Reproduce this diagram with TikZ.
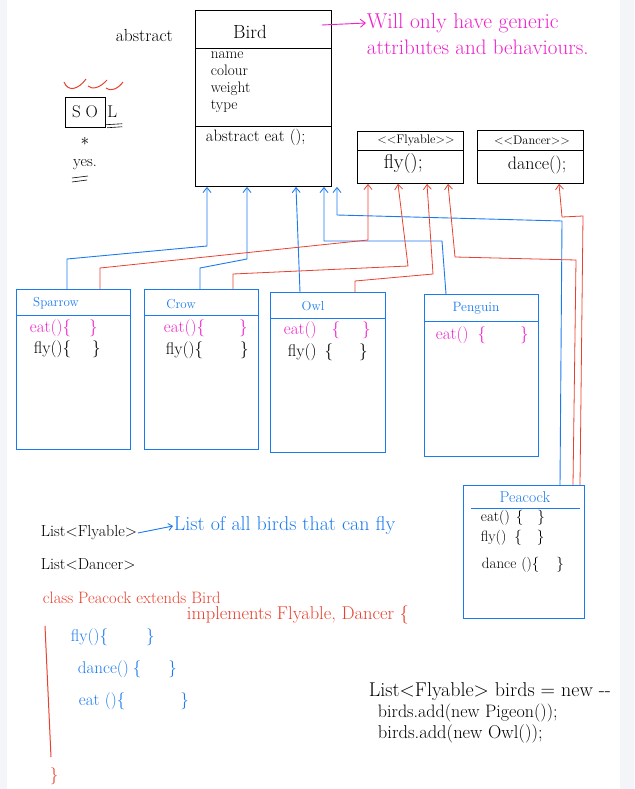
\documentclass[tikz,border=0pt]{standalone}
\usepackage{amsmath}
\usepackage{amssymb}
\usetikzlibrary{arrows.meta,positioning}

\definecolor{penblue}{RGB}{26,122,240}
\definecolor{penred}{RGB}{232,65,47}
\definecolor{penpink}{RGB}{238,34,204}
\definecolor{sidegrey}{RGB}{244,245,249}

\newcommand{\stereo}[1]{<\kern0pt<#1>\kern0pt>}

\tikzset{
  clsbox/.style={draw, line width=0.9pt, anchor=north west, inner sep=0pt},
  txt/.style={inner sep=0.75pt, font=\fontsize{#1}{17}\selectfont},
  txt/.default=17,
  inh/.style={penblue, line width=0.9pt, -{Straight Barb[length=5pt,width=8pt]}},
  impl/.style={penred, line width=0.8pt, -{Straight Barb[length=5pt,width=8pt]}},
}

\begin{document}
\begin{tikzpicture}[x=1pt,y=-1pt]
\useasboundingbox (0,0) rectangle (634,789);
%side strips of the page
\fill[sidegrey] (0,0) rectangle (7,789);
\fill[sidegrey] (620,0) rectangle (634,789);

%Shape: Class Bird [abstract]
\node[clsbox, minimum width=136pt, minimum height=176pt] (bird) at (195,10) {};
\draw[line width=0.9pt] ([yshift=-38pt]bird.north west) -- ([yshift=-38pt]bird.north east);
\draw[line width=0.9pt] ([yshift=-116pt]bird.north west) -- ([yshift=-116pt]bird.north east);
% Text Node
\node[txt=19] (birdname) at (250,32) {Bird};
\node[txt=17.5, anchor=west] (abstractlbl) at (115,35) {abstract};
\node[txt=15.2, anchor=north west, align=left] (birdattr) at (210,51) {name\\colour\\weight\\type};
\node[txt=16.5, anchor=west] (birdeat) at (205,137) {abstract eat ();};

%note on Bird
\node[txt=21.5, penpink, anchor=west] (note1) at (366,23) {Will only have generic};
\node[txt=21, penpink, anchor=west] (note2) at (366,47) {attributes and behaviours.};
\draw[penpink, line width=0.9pt, -{Straight Barb[length=5pt,width=8pt]}] ([shift={(-10pt,-15pt)}]bird.north east) -- (note1.west);

%SOL mark
\node[draw, line width=0.8pt, minimum width=40pt, minimum height=30pt, inner sep=0pt, txt=17] (sobox) at (85,112) {S\hspace{5pt}O};
\node[txt=17, right=1pt of sobox] (lletter) {L};
\draw[line width=0.6pt] ([shift={(-7pt,-6pt)}]lletter.south) -- ([shift={(10pt,-5pt)}]lletter.south);
\draw[line width=0.6pt] ([shift={(-5pt,-9pt)}]lletter.south) -- ([shift={(10pt,-8pt)}]lletter.south);
\draw[penred, line width=1pt] (64,82) .. controls (68,92) and (78,90) .. (86,79);
\draw[penred, line width=1pt] (88,86) .. controls (92,90) and (100,88) .. (107,80);
\draw[penred, line width=1pt] (106,88) .. controls (110,92) and (118,89) .. (123,82);
\node[txt=16, below=9pt of sobox] (star) {$\ast$};
\node[txt=16, below=12pt of star] (yeslbl) {yes.};
\draw[line width=0.6pt] (72,178) -- (88,176);
\draw[line width=0.6pt] (72,182) -- (87,180);

%Shape: Interface Flyable
\node[clsbox, minimum width=106pt, minimum height=52pt] (fly) at (357,131) {};
\draw[line width=0.9pt] ([yshift=-19pt]fly.north west) -- ([yshift=-19pt]fly.north east);
\node[txt=12.5] (flyname) at (416,140) {\stereo{Flyable}};
\node[txt=20, anchor=west] (flyop) at (383,164) {fly();};

%Shape: Interface Dancer
\node[clsbox, minimum width=106pt, minimum height=53pt] (dancer) at (477,130) {};
\draw[line width=0.9pt] ([yshift=-20pt]dancer.north west) -- ([yshift=-20pt]dancer.north east);
\node[txt=12.5] (dancername) at (532,140) {\stereo{Dancer}};
\node[txt=18, anchor=west] (dancerop) at (507,165) {dance();};

%Shape: Class Sparrow
\node[clsbox, penblue, minimum width=114pt, minimum height=160pt] (sparrow) at (16,289) {};
\draw[penblue, line width=0.9pt] ([yshift=-26pt]sparrow.north west) -- ([yshift=-26pt]sparrow.north east);
\node[txt=13, penblue] (sparrowname) at (56,303) {Sparrow};
\node[txt, penpink, anchor=west] (sparroweat) at (29,328) {eat()\{\hspace{18pt}\}};
\node[txt, anchor=west] (sparrowfly) at (33,349) {fly()\{\hspace{21pt}\}};

%Shape: Class Crow
\node[clsbox, penblue, minimum width=114pt, minimum height=160pt] (crow) at (144,289) {};
\draw[penblue, line width=0.9pt] ([yshift=-26pt]crow.north west) -- ([yshift=-26pt]crow.north east);
\node[txt=13, penblue] (crowname) at (181,304) {Crow};
\node[txt, penpink, anchor=west] (croweat) at (163,328) {eat()\{\hspace{34pt}\}};
\node[txt, anchor=west] (crowfly) at (165,350) {fly()\{\hspace{37pt}\}};

%Shape: Class Owl
\node[clsbox, penblue, minimum width=115pt, minimum height=160pt] (owl) at (270,292) {};
\draw[penblue, line width=0.9pt] ([yshift=-26pt]owl.north west) -- ([yshift=-26pt]owl.north east);
\node[txt=13, penblue] (owlname) at (313,306) {Owl};
\node[txt, penpink, anchor=west] (owleat) at (283,330) {eat()\hspace{15pt}\{\hspace{22pt}\}};
\node[txt, anchor=west] (owlfly) at (287,352) {fly()\hspace{8pt}\{\hspace{26pt}\}};

%Shape: Class Penguin
\node[clsbox, penblue, minimum width=114pt, minimum height=162pt] (penguin) at (424,294) {};
\draw[penblue, line width=0.9pt] ([yshift=-27pt]penguin.north west) -- ([yshift=-27pt]penguin.north east);
\node[txt=13.5, penblue] (penguinname) at (476,308) {Penguin};
\node[txt, penpink, anchor=west] (penguineat) at (435,335) {eat()\hspace{9pt}\{\hspace{34pt}\}};

%Shape: Class Peacock
\node[clsbox, penblue, minimum width=121pt, minimum height=133pt] (peacock) at (463,485) {};
\draw[penblue, line width=0.9pt] ([shift={(8pt,-23pt)}]peacock.north west) -- ([shift={(-5pt,-23pt)}]peacock.north east);
\node[txt=15.7, penblue] (peacockname) at (525,497) {Peacock};
\node[txt=15, anchor=west] (peacockeat) at (480,518) {eat()\hspace{6pt}\{\hspace{14pt}\}};
\node[txt=15, anchor=west] (peacockfly) at (480,538) {fly()\hspace{8pt}\{\hspace{15pt}\}};
\node[txt=15, anchor=west] (peacockdance) at (481,565) {dance\hspace{5pt}()\{\hspace{17pt}\}};

%inheritance: classes to Bird
\draw[inh] ([xshift=51pt]sparrow.north west) -- ++(0,-30) -- ++(140,-13) -- ([xshift=12pt]bird.south west);
\draw[inh] ([xshift=56pt]crow.north west) -- ++(0,-21) -- ++(47,-9) -- ([xshift=52pt]bird.south west);
\draw[inh] ([xshift=30pt]owl.north west) -- ([xshift=101pt]bird.south west);
\draw[inh] ([xshift=22pt]penguin.north west) -- ++(-4,-53) -- ++(-118,0) -- ([xshift=129pt]bird.south west);
\draw[inh] ([xshift=97pt]peacock.north west) -- ++(2,-264) -- ++(-225,-6) -- ([xshift=142pt]bird.south west);

%realisation: classes to Flyable and Dancer
\draw[impl] ([xshift=84pt]sparrow.north west) -- ++(0,-21) -- ++(268,-28) -- ([xshift=11pt]fly.south west);
\draw[impl] ([xshift=89pt]crow.north west) -- ++(0,-15) -- ++(175,-8) -- ([xshift=41pt]fly.south west);
\draw[impl] ([xshift=85pt]owl.north west) -- ++(0,-11) -- ++(78,-7) -- ([xshift=70pt]fly.south west);
\draw[impl] ([xshift=110pt]peacock.north west) -- ++(3,-225) -- ++(-121,-3) -- ([xshift=91pt]fly.south west);
\draw[impl] ([xshift=117pt]peacock.north west) -- ++(3,-269) -- ++(-21,1) -- ([xshift=82pt]dancer.south west);

%notes below
\node[txt=16, anchor=west] (lstfly) at (40,533) {List<Flyable>};
\node[txt=20, penblue, anchor=west] (lstnote) at (173,526) {List of all birds that can fly};
\draw[penblue, line width=0.9pt, -{Straight Barb[length=4pt,width=7pt]}] (lstfly.east) -- (lstnote.west);
\node[txt=16, anchor=west] (lstdance) at (40,564) {List<Dancer>};
\node[txt=16.5, penred, anchor=west] (clsline) at (42,598) {class Peacock extends Bird};
\node[txt=18.5, penred, anchor=west] (implline) at (186,615) {implements Flyable, Dancer \{};
\draw[penred, line width=1pt] (45,626) -- (51,757);
\node[txt, penred] (clsend) at (54,776) {\}};
\node[txt=17, penblue, anchor=west] (pcfly) at (70,637) {fly()\{\hspace{38pt}\}};
\node[txt=17, penblue, anchor=west] (pcdance) at (77,669) {dance()\hspace{4pt}\{\hspace{27pt}\}};
\node[txt=17, penblue, anchor=west] (pceat) at (78,701) {eat ()\{\hspace{55pt}\}};

\node[txt=20, anchor=west] (code1) at (368,692) {List<Flyable> birds = new -\kern0pt-};
\node[txt=18, anchor=west] (code2) at (377,713) {birds.add(new Pigeon());};
\node[txt=18.5, anchor=west] (code3) at (377,734) {birds.add(new Owl());};

\end{tikzpicture}
\end{document}
